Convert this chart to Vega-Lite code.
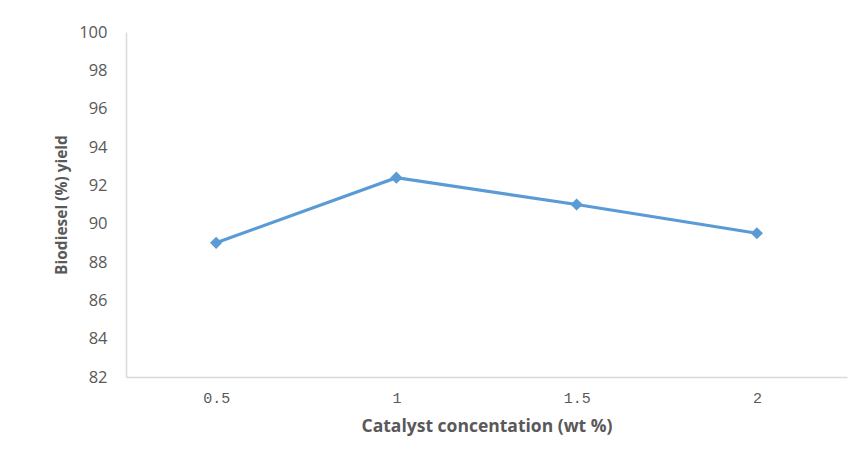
{
  "$schema": "https://vega.github.io/schema/vega-lite/v6.json",
  "autosize": {"type": "none"},
  "padding": {"left": 126, "top": 32, "right": 18, "bottom": 82},
  "width": 721,
  "height": 345,
  "background": "white",
  "config": {"view": {"stroke": null}},
  "data": {"values": [
    {"conc": "0.5", "yield": 89.0},
    {"conc": "1", "yield": 92.4},
    {"conc": "1.5", "yield": 91.0},
    {"conc": "2", "yield": 89.5}
  ]},
  "encoding": {
    "x": {
      "field": "conc", "type": "ordinal", "sort": null,
      "scale": {"paddingInner": 0, "paddingOuter": 0},
      "axis": {
        "title": "Catalyst concentation (wt %)",
        "labelAngle": 0, "ticks": false, "grid": false,
        "domainColor": "#d9d9d9", "domainWidth": 1.5,
        "labelFont": "Liberation Mono", "labelFontSize": 15, "labelColor": "#595959",
        "labelPadding": 13,
        "titleFont": "Open Sans", "titleFontSize": 17.5, "titleFontWeight": "bold", "titleColor": "#595959",
        "titlePadding": 12
      }
    },
    "y": {
      "field": "yield", "type": "quantitative",
      "scale": {"domain": [82, 100], "nice": false, "zero": false},
      "axis": {
        "title": "Biodiesel (%) yield",
        "values": [82, 84, 86, 88, 90, 92, 94, 96, 98, 100],
        "ticks": false, "grid": false,
        "domainColor": "#d9d9d9", "domainWidth": 1.5,
        "labelFont": "Open Sans", "labelFontSize": 16.5, "labelColor": "#595959",
        "labelPadding": 19,
        "titleFont": "Open Sans", "titleFontSize": 15.5, "titleFontWeight": "bold", "titleColor": "#595959",
        "titlePadding": 9
      }
    }
  },
  "layer": [
    {"mark": {"type": "line", "color": "#5b9bd5", "strokeWidth": 3.2}},
    {"mark": {"type": "point", "shape": "diamond", "filled": true, "color": "#5b9bd5", "size": 150, "opacity": 1}}
  ]
}
